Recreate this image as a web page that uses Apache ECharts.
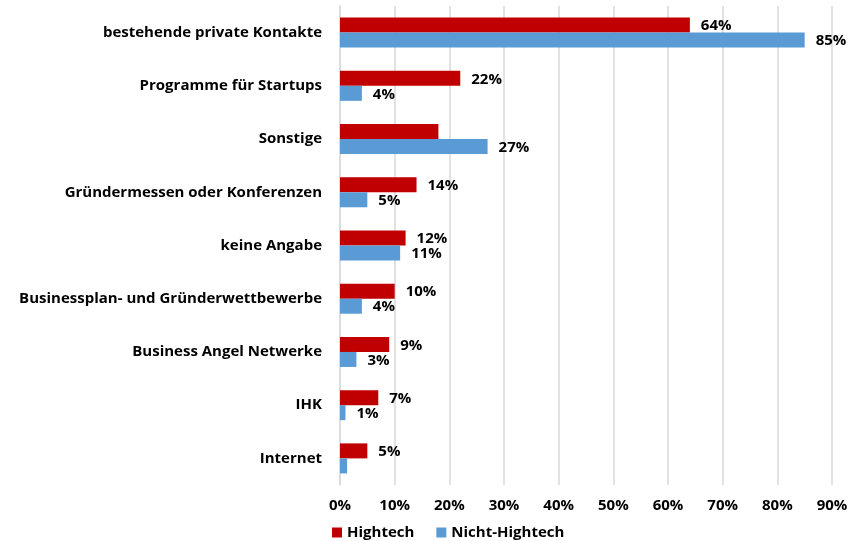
<!DOCTYPE html>
<html>
<head>
<meta charset="utf-8">
<script src="https://cdn.jsdelivr.net/npm/echarts@6/dist/echarts.min.js"></script>
<style>
  html, body { margin: 0; padding: 0; background: #fff; }
  #chart { width: 859px; height: 541px; }
</style>
</head>
<body>
<div id="chart"></div>
<script>
const categories = [
  'bestehende private Kontakte',
  'Programme für Startups',
  'Sonstige',
  'Gründermessen oder Konferenzen',
  'keine Angabe',
  'Businessplan- und Gründerwettbewerbe',
  'Business Angel Netwerke',
  'IHK',
  'Internet'
]
const hightech = [64, 22, 18, 14, 12, 10, 9, 7, 5]
const nichtHightech = [85, 4, 27, 5, 11, 4, 3, 1, 1.3]
// in der Vorlage fehlen zwei Beschriftungen
const hightechShowLabel = [true, true, false, true, true, true, true, true, true]
const nichtShowLabel = [true, true, true, true, true, true, true, true, false]
const xTicks = [0, 10, 20, 30, 40, 50, 60, 70, 80, 90]

const font = '"Open Sans", "Noto Sans", sans-serif'

const chart = echarts.init(document.getElementById('chart'))

const makeData = (values, show) => values.map((v, i) => ({
  value: v,
  label: { show: show[i] }
}))

const barLabel = {
  show: true,
  position: 'right',
  distance: 11,
  offset: [0, 1],
  formatter: (p) => Math.round(p.value) + '%',
  color: '#000',
  fontFamily: font,
  fontWeight: 'bold',
  fontSize: 15
}

const option = {
  animation: false,
  textStyle: { fontFamily: font },
  grid: {
    left: 340,
    right: 27,
    top: 6,
    bottom: 56
  },
  legend: {
    left: 327,
    top: 520,
    itemWidth: 10,
    itemHeight: 10,
    itemGap: 22,
    icon: 'rect',
    textStyle: {
      fontFamily: font,
      fontWeight: 'bold',
      fontSize: 15,
      color: '#000'
    },
    data: ['Hightech', 'Nicht-Hightech']
  },
  xAxis: {
    type: 'value',
    min: xTicks[0],
    max: xTicks[xTicks.length - 1],
    interval: 10,
    axisLine: { show: false },
    axisTick: { show: false },
    splitLine: { lineStyle: { color: '#d9d9d9', width: 1.5 } },
    axisLabel: {
      formatter: '{value}%',
      color: '#000',
      fontFamily: font,
      fontWeight: 'bold',
      fontSize: 15,
      margin: 13
    }
  },
  yAxis: {
    type: 'category',
    inverse: true,
    data: categories,
    axisLine: { show: true, lineStyle: { color: '#d9d9d9', width: 1.5 } },
    axisTick: { show: false },
    axisLabel: {
      color: '#000',
      fontFamily: font,
      fontWeight: 'bold',
      fontSize: 15,
      margin: 18
    }
  },
  series: [
    {
      name: 'Hightech',
      type: 'bar',
      barWidth: 15,
      barGap: '0%',
      itemStyle: { color: '#c00000' },
      label: barLabel,
      data: makeData(hightech, hightechShowLabel)
    },
    {
      name: 'Nicht-Hightech',
      type: 'bar',
      barWidth: 15,
      barGap: '0%',
      itemStyle: { color: '#5b9bd5' },
      label: barLabel,
      data: makeData(nichtHightech, nichtShowLabel)
    }
  ]
}

chart.setOption(option)
</script>
</body>
</html>
